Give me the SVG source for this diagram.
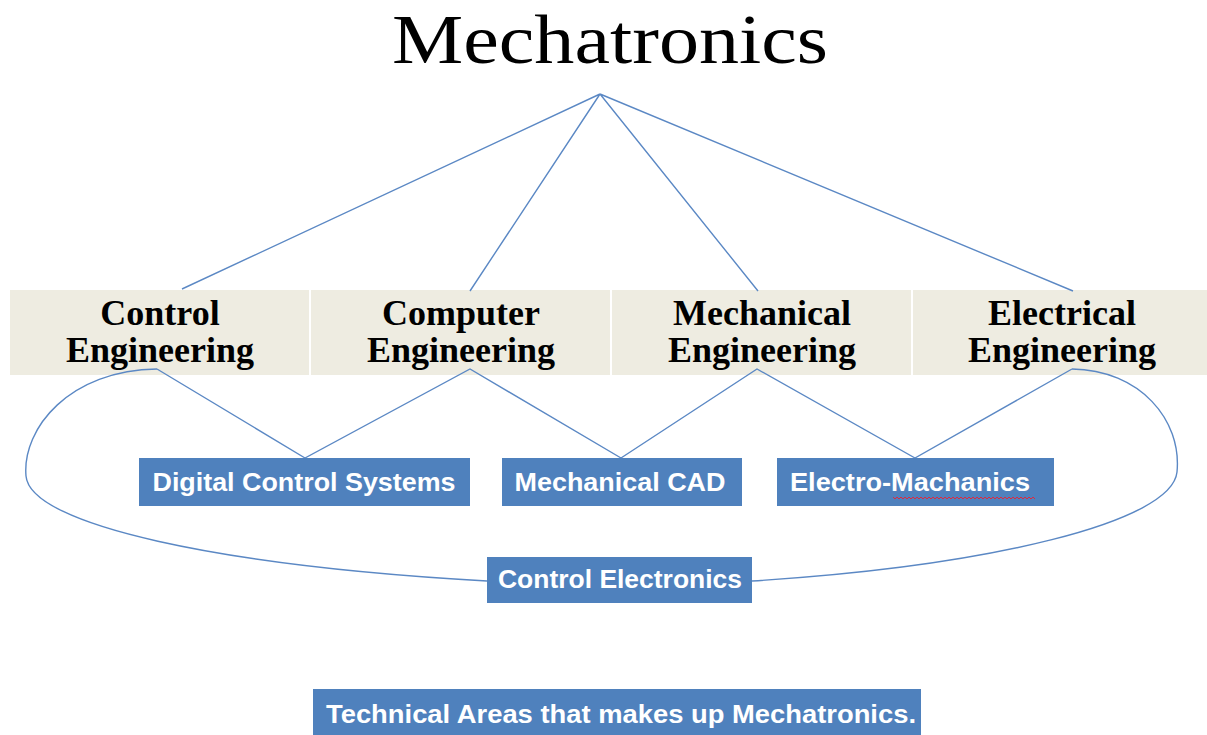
<svg xmlns="http://www.w3.org/2000/svg" width="1207" height="735" viewBox="0 0 1207 735">
<style>
.cat{fill:#EEECE1}
.catt{font-family:"Liberation Serif",serif;font-weight:bold;font-size:36px;fill:#000;text-anchor:middle}
.box{fill:#4F81BD}
.boxt{font-family:"Liberation Sans",Arial,sans-serif;font-weight:bold;font-size:26px;fill:#fff;text-anchor:middle}
.con{fill:none;stroke:#5B88C4;stroke-width:1.4}
</style>
<rect width="1207" height="735" fill="#fff"/>
<g id="title">
<text x="610" y="63" font-family="'Liberation Serif',serif" font-size="70" text-anchor="middle" textLength="436" lengthAdjust="spacingAndGlyphs">Mechatronics</text>
</g>
<g id="control-engineering">
<rect class="cat" x="10" y="290" width="299" height="85"/>
<text class="catt" x="160" y="325">Control</text>
<text class="catt" x="160" y="362">Engineering</text>
</g>
<g id="computer-engineering">
<rect class="cat" x="311" y="290" width="299" height="85"/>
<text class="catt" x="461" y="325">Computer</text>
<text class="catt" x="461" y="362">Engineering</text>
</g>
<g id="mechanical-engineering">
<rect class="cat" x="612" y="290" width="299" height="85"/>
<text class="catt" x="762" y="325">Mechanical</text>
<text class="catt" x="762" y="362">Engineering</text>
</g>
<g id="electrical-engineering">
<rect class="cat" x="913" y="290" width="294" height="85"/>
<text class="catt" x="1062" y="325">Electrical</text>
<text class="catt" x="1062" y="362">Engineering</text>
</g>
<g id="connectors">
<path class="con" d="M600,94 L182,289 M600,94 L470,291 M600,94 L758,291 M600,94 L1073,291"/>
<path class="con" d="M157,369 L305,458 L470,369 L621,458 L757,369 L915,458 L1072,369"/>
<path class="con" d="M157,369 C70,370 22,428 26,476 C30,525 220,566 487,581"/>
<path class="con" d="M1072,369 C1140,370 1182,420 1177,472 C1172,522 990,566 752,581"/>
</g>
<g id="digital-control-systems">
<rect class="box" x="139" y="458" width="331" height="48"/>
<text class="boxt" x="304" y="491" textLength="303" lengthAdjust="spacingAndGlyphs">Digital Control Systems</text>
</g>
<g id="mechanical-cad">
<rect class="box" x="502" y="458" width="240" height="48"/>
<text class="boxt" x="620" y="491" textLength="211" lengthAdjust="spacingAndGlyphs">Mechanical CAD</text>
</g>
<g id="electro-machanics">
<rect class="box" x="777" y="458" width="277" height="48"/>
<text class="boxt" x="910" y="491" textLength="240" lengthAdjust="spacingAndGlyphs">Electro-Machanics</text>
<path d="M893,497 l2,2 l2,-2 l2,2 l2,-2 l2,2 l2,-2 l2,2 l2,-2 l2,2 l2,-2 l2,2 l2,-2 l2,2 l2,-2 l2,2 l2,-2 l2,2 l2,-2 l2,2 l2,-2 l2,2 l2,-2 l2,2 l2,-2 l2,2 l2,-2 l2,2 l2,-2 l2,2 l2,-2 l2,2 l2,-2 l2,2 l2,-2 l2,2 l2,-2 l2,2 l2,-2 l2,2 l2,-2 l2,2 l2,-2 l2,2 l2,-2 l2,2 l2,-2 l2,2 l2,-2 l2,2 l2,-2 l2,2 l2,-2 l2,2 l2,-2 l2,2 l2,-2 l2,2 l2,-2 l2,2 l2,-2 l2,2 l2,-2 l2,2 l2,-2 l2,2 l2,-2 l2,2 l2,-2 l2,2 l2,-2 l2,2" fill="none" stroke="#E0283C" stroke-width="1"/>
</g>
<g id="control-electronics">
<rect class="box" x="487" y="557" width="265" height="46"/>
<text class="boxt" x="620" y="588" textLength="244" lengthAdjust="spacingAndGlyphs">Control Electronics</text>
</g>
<g id="caption">
<rect class="box" x="313" y="689" width="608" height="46"/>
<text class="boxt" x="621" y="723" textLength="590" lengthAdjust="spacingAndGlyphs">Technical Areas that makes up Mechatronics.</text>
</g>
</svg>
